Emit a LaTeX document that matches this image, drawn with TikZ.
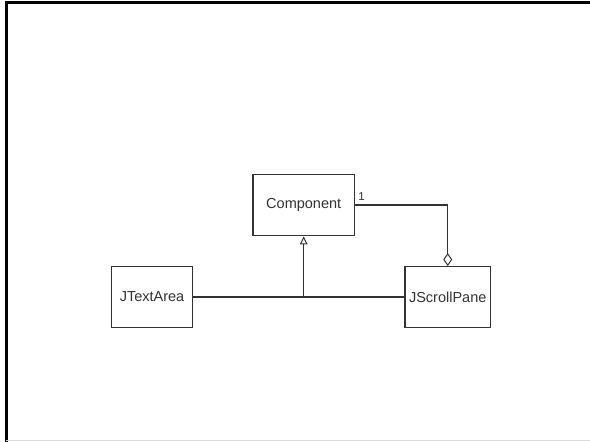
\documentclass[tikz,border=0pt]{standalone}
\usepackage{fontspec}
\setmainfont{Liberation Sans}
\usetikzlibrary{arrows.meta}
\definecolor{ink}{HTML}{333333}
\tikzset{
  classbox/.style={draw=ink, line width=1.2pt, rectangle, inner sep=0pt, text=ink, font=\fontsize{14.5}{16}\selectfont},
  link/.style={draw=ink, line width=1.2pt},
}
\begin{document}
\begin{tikzpicture}[x=1pt,y=-1pt]
\useasboundingbox (0,0) rectangle (590,442);
\fill[white] (0,0) rectangle (590,442);
% frame
\coordinate (fTL) at (6,2.5);
\coordinate (fBL) at (6,442);
\coordinate (fTR) at (590,2.5);
\draw[line width=3pt, black] (fBL) -- (fTL) -- (fTR);
\draw[line width=1pt, black!15] (6,440.5) -- (590,440.5);
% classes
\node[classbox, minimum width=101.6pt, minimum height=61.4pt] (comp) at (303.7,205) {Component};
\node[classbox, minimum width=81pt, minimum height=60.6pt] (jta) at (152,297) {JTextArea};
\node[classbox, minimum width=85.5pt, minimum height=60.6pt] (jsp) at (447.75,297) {JScrollPane};
% connectors
\coordinate (junc) at (comp.south |- jta.east);
\draw[link] (jta.east) -- (jsp.west);
\draw[link, -{Triangle[open, length=8pt, width=7.5pt, line width=1pt]}] (junc) -- (comp.south);
\draw[link, -{Diamond[open, length=13pt, width=9pt, line width=1pt]}] (comp.east) -| (jsp.north);
\node[text=ink, font=\fontsize{11.5}{12}\selectfont, anchor=center] (mult) at (361.5,197) {1};
\end{tikzpicture}
\end{document}
